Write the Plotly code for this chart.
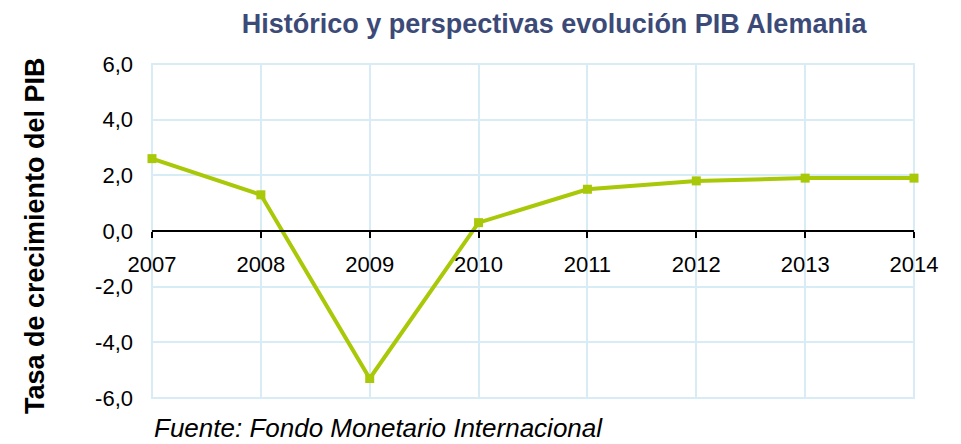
import plotly.graph_objects as go

years = [2007, 2008, 2009, 2010, 2011, 2012, 2013, 2014]
growth = [2.6, 1.3, -5.3, 0.3, 1.5, 1.8, 1.9, 1.9]
y_ticks = [-6, -4, -2, 0, 2, 4, 6]
y_tick_labels = ["-6,0", "-4,0", "-2,0", "0,0", "2,0", "4,0", "6,0"]

title_text = "Histórico y perspectivas evolución PIB Alemania"
y_title = "Tasa de crecimiento del PIB"
source_text = "Fuente: Fondo Monetario Internacional"

line_color = "#A9C808"
grid_color = "#D8ECF5"
font_fam = "Liberation Sans, Arial, sans-serif"

fig = go.Figure()
fig.add_trace(go.Scatter(
    x=years, y=growth, mode="lines+markers",
    line=dict(color=line_color, width=4),
    marker=dict(symbol="square", size=9, color=line_color),
    cliponaxis=False, showlegend=False,
))

fig.update_layout(
    width=953, height=436,
    margin=dict(l=144, r=47, t=56, b=46, autoexpand=False),
    paper_bgcolor="white", plot_bgcolor="white",
    font=dict(family=font_fam, size=22, color="black"),
    title=dict(text="<b>" + title_text + "</b>", x=0.573, xanchor="center",
               xref="container", y=0.985, yanchor="top", yref="container",
               automargin=False,
               font=dict(family=font_fam, size=27, color="#3C4A78")),
    xaxis=dict(
        range=[2007, 2014], tickvals=years, ticktext=[str(y) for y in years],
        anchor="free", position=0.5, automargin=False,
        showgrid=True, gridcolor=grid_color, gridwidth=2,
        showline=True, linecolor="black", linewidth=2,
        ticks="outside", ticklen=6, tickwidth=2, tickcolor="black",
        ticklabelstandoff=8,
        zeroline=False, mirror=False,
        tickfont=dict(size=22, color="black"),
    ),
    yaxis=dict(
        range=[-6, 6], tickvals=y_ticks, ticktext=y_tick_labels,
        automargin=False,
        showgrid=True, gridcolor=grid_color, gridwidth=2,
        zeroline=False, showline=False, ticks="",
        ticklabelstandoff=18,
        tickfont=dict(size=22, color="black"),
    ),
    shapes=[
        dict(type="rect", xref="paper", yref="paper", x0=0, x1=1, y0=0, y1=1,
             line=dict(color=grid_color, width=2), layer="below"),
    ],
    annotations=[
        dict(text="<b>" + y_title + "</b>", xref="paper", yref="paper",
             x=-0.1535, y=0.485, xanchor="center", yanchor="middle",
             textangle=-90, showarrow=False,
             font=dict(family=font_fam, size=27, color="black")),
        dict(text="<i>" + source_text + "</i>", xref="paper", yref="paper",
             x=0.0, y=-0.09, xanchor="left", yanchor="middle",
             showarrow=False,
             font=dict(family=font_fam, size=26, color="black")),
    ],
)

fig.write_html("out.html")
